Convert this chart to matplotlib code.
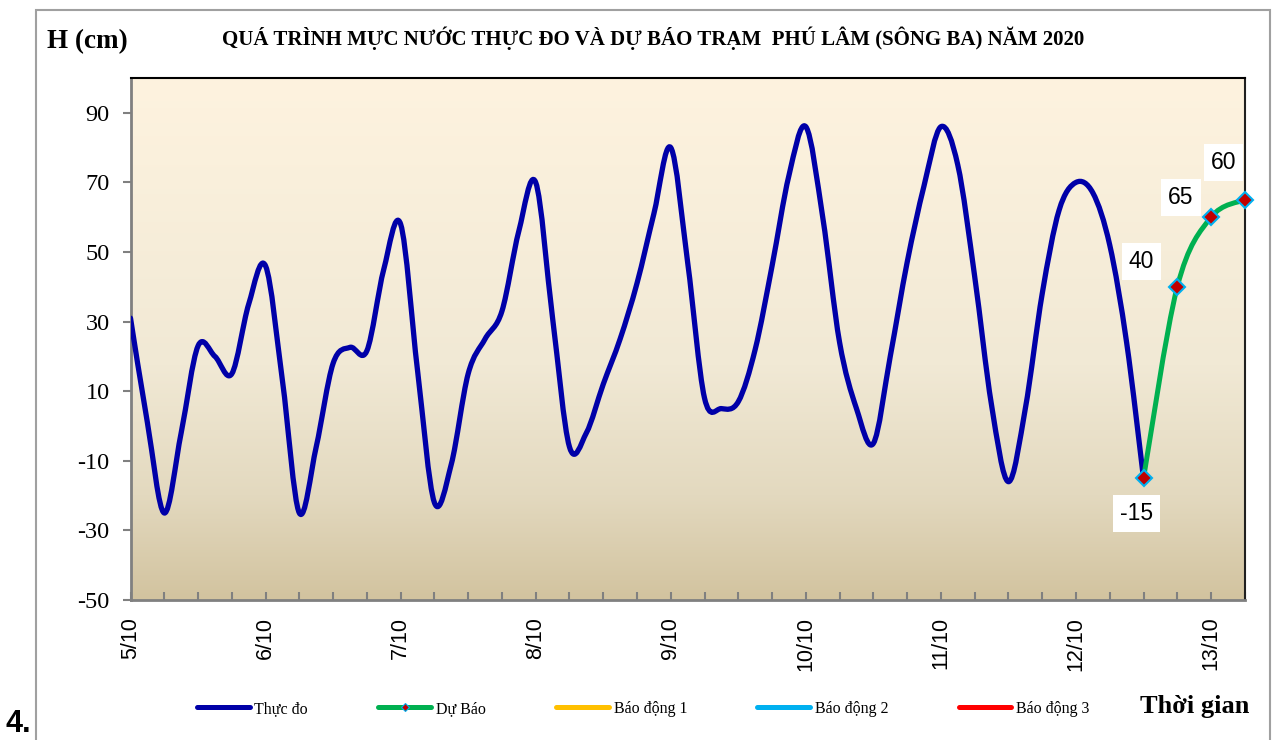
import numpy as np
import matplotlib
matplotlib.use('Agg')
import matplotlib.pyplot as plt
from matplotlib.path import Path
from matplotlib.patches import PathPatch, Rectangle
from matplotlib.lines import Line2D
from matplotlib.colors import LinearSegmentedColormap

# Water level observed, every 3 hours from 5/10 00h to 12/10 12h (cm)
obs_values = [
    31, 1, -25, -2, 23, 20, 15, 35,       # 5/10
    46, 13, -25, -6, 18, 22.6, 21.6, 45,  # 6/10
    58, 16, -22, -11, 15, 25, 33, 56,     # 7/10
    70, 31, -6, -2, 12, 25, 41, 61,       # 8/10
    80, 47, 8, 5, 7, 22, 46, 72,          # 9/10
    86, 60, 24, 5, -5, 20, 47, 69,        # 10/10
    86, 75, 43, 6, -16, 5, 38, 62,        # 11/10
    70, 67, 52, 24, -15,                  # 12/10
]
obs_days = [i * 0.125 for i in range(len(obs_values))]

# Forecast, every 6 hours from 12/10 12h
fc_days = [7.5, 7.75, 8.0, 8.25]
fc_values = [-15, 40, 60, 65]
fc_labels = ['-15', '40', '65', '60']
fc_label_offsets = [(-7, -35), (-36, 25), (-30, 20), (-21, 37)]  # pixels

date_labels = ['5/10', '6/10', '7/10', '8/10', '9/10', '10/10', '11/10', '12/10', '13/10']

legend_names = ['Thực đo', 'Dự Báo', 'Báo động 1', 'Báo động 2', 'Báo động 3']
legend_colors = ['#0000A8', '#00B050', '#FFC000', '#00B0F0', '#FF0000']

serif = ['Liberation Serif', 'DejaVu Serif']
sans = ['Liberation Sans', 'DejaVu Sans']


def smooth_path(xs, ys):
    # smoothed line through the points, like Excel's "smoothed line"
    pts = np.column_stack([xs, ys]).astype(float)
    ext = np.vstack([pts[0], pts, pts[-1]])
    verts = [pts[0]]
    codes = [Path.MOVETO]
    for i in range(len(pts) - 1):
        p0, p1, p2, p3 = ext[i], ext[i + 1], ext[i + 2], ext[i + 3]
        verts += [p1 + (p2 - p0) / 6, p2 - (p3 - p1) / 6, p2]
        codes += [Path.CURVE4] * 3
    return Path(verts, codes)


fig = plt.figure(figsize=(12.8, 7.4), dpi=100)
fig.patch.set_facecolor('white')

# outer chart frame
fig.patches.append(Rectangle((36 / 1280, -0.05), (1270 - 36) / 1280, 1.05 - 10 / 740,
                             transform=fig.transFigure, fill=False,
                             edgecolor='#A0A0A0', lw=1.5, clip_on=False))

ax = fig.add_axes([130.5 / 1280, 140 / 740, 1114.3 / 1280, 522 / 740])

xmin, xmax, ymin, ymax = 0, 8.25, -50, 100

# gradient background
cmap = LinearSegmentedColormap.from_list(
    'bg', [(0.0, '#D2C39F'), (0.2, '#E3D9BF'), (0.45, '#F1E9D5'), (1.0, '#FEF3DF')])
grad = np.linspace(0, 1, 256).reshape(-1, 1)
ax.imshow(grad, extent=[xmin, xmax, ymin, ymax], origin='lower', aspect='auto',
          cmap=cmap, zorder=0)

ax.add_patch(PathPatch(smooth_path(obs_days, obs_values), fill=False,
                       edgecolor='#0000A8', lw=3.8, capstyle='round',
                       joinstyle='round', zorder=3))
ax.add_patch(PathPatch(smooth_path(fc_days, fc_values), fill=False,
                       edgecolor='#00B050', lw=3.6, capstyle='round',
                       joinstyle='round', zorder=4))
ax.plot(fc_days, fc_values, ls='none', marker='D', ms=8.5, mfc='#C00000',
        mec='#00B0F0', mew=1.5, zorder=5, clip_on=False)

for d, v, lab, off in zip(fc_days, fc_values, fc_labels, fc_label_offsets):
    ax.annotate(lab, (d, v), xytext=off, textcoords='offset pixels',
                ha='center', va='center', fontsize=16.5, family=sans, zorder=6,
                bbox=dict(boxstyle='square,pad=0.3', fc='white', ec='none'),
                annotation_clip=False)

ax.set_xlim(xmin, xmax)
ax.set_ylim(ymin, ymax)

ax.set_yticks(np.arange(-50, 91, 20))
ax.set_yticklabels([str(v) for v in range(-50, 91, 20)], fontsize=17.5, family=serif)
ax.tick_params(axis='y', direction='out', length=6, width=1.5, color='#808080', pad=9)

xt = np.arange(0, 8.26, 0.25)
ax.set_xticks(xt)
ax.set_xticklabels([date_labels[int(t)] if abs(t - round(t)) < 1e-6 else '' for t in xt],
                   rotation=90, fontsize=15.5, family=sans, va='top', ha='center')
ax.tick_params(axis='x', direction='in', length=6, width=1.5, color='#808080', pad=12)

for s in ['left', 'bottom']:
    ax.spines[s].set_color('#808080')
    ax.spines[s].set_linewidth(2)
ax.spines['top'].set_color('#000000')
ax.spines['top'].set_linewidth(1.5)
ax.spines['right'].set_color('#202020')
ax.spines['right'].set_linewidth(1.5)

fig.text(653 / 1280, 1 - 38 / 740,
         'QUÁ TRÌNH MỰC NƯỚC THỰC ĐO VÀ DỰ BÁO TRẠM  PHÚ LÂM (SÔNG BA) NĂM 2020',
         ha='center', va='center', fontsize=15, fontweight='bold', family=serif)
fig.text(47 / 1280, 1 - 42 / 740, 'H (cm)', ha='left', va='center',
         fontsize=19.5, fontweight='bold', family=serif)
fig.text(1249 / 1280, 1 - 707 / 740, 'Thời gian', ha='right', va='center',
         fontsize=19, fontweight='bold', family=serif)
fig.text(6 / 1280, 1 - 739 / 740, '4.', ha='left', va='bottom',
         fontsize=22, fontweight='bold', family=sans)

handles = []
for name, col in zip(legend_names, legend_colors):
    if name == 'Dự Báo':
        h = Line2D([], [], color=col, lw=3.6, solid_capstyle='round', marker='D',
                   ms=4, mfc='#C00000', mec='#00B0F0', mew=0.8)
    else:
        h = Line2D([], [], color=col, lw=3.6, solid_capstyle='round')
    handles.append(h)
fig.legend(handles, legend_names, loc='center left', ncol=5,
           bbox_to_anchor=(197 / 1280, 1 - 709 / 740), frameon=False,
           prop={'family': serif, 'size': 11.5}, handlelength=3.3,
           handletextpad=0.3, columnspacing=4.4, borderpad=0, borderaxespad=0,
           numpoints=1)

fig.savefig('out.png', dpi=100)
